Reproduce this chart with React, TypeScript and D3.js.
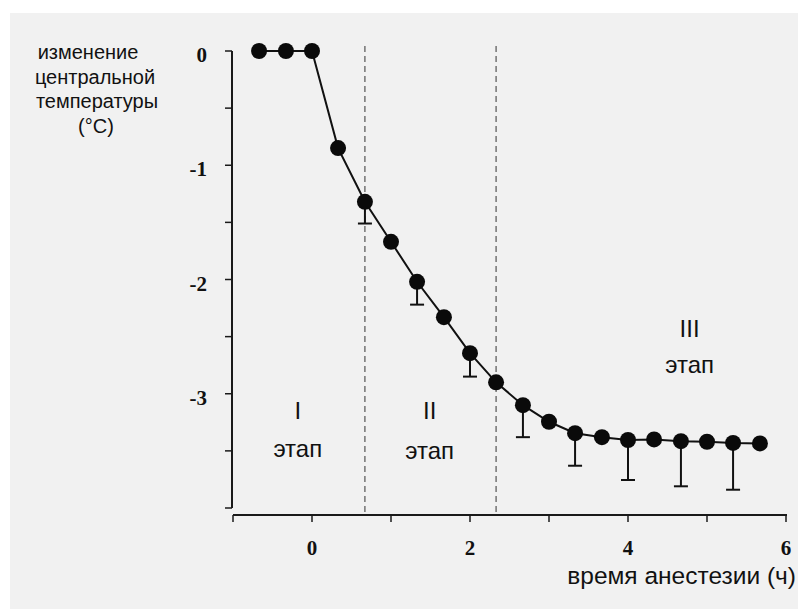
import React from "react";
import * as d3 from "d3";

// time since induction (h), mean core temperature change (°C), lower end of SD bar
const hours = [-0.67, -0.33, 0, 0.33, 0.67, 1, 1.33, 1.67, 2, 2.33, 2.67, 3, 3.33, 3.67, 4, 4.33, 4.67, 5, 5.33, 5.67];
const tempChange = [0, 0, 0, -0.85, -1.32, -1.67, -2.02, -2.33, -2.645, -2.9, -3.1, -3.245, -3.345, -3.38, -3.405, -3.4, -3.415, -3.42, -3.43, -3.435];
const errLow = [null, null, null, null, -1.51, null, -2.22, null, -2.85, null, -3.38, null, -3.63, null, -3.755, null, -3.81, null, -3.84, null];

const phaseBounds = [0.67, 2.33];
const phaseNames = ["I", "II", "III"];
const yTicks = [0, -1, -2, -3];
const xTicks = [0, 2, 4, 6];
const yTitle = ["изменение", "центральной", "температуры", "(°C)"];
const xTitle = "время анестезии (ч)";

const W = 798;
const H = 609;

export default function App() {
  const x = d3.scaleLinear().domain([-1, 6]).range([233, 786]);
  const y = d3.scaleLinear().domain([0, -4]).range([51, 508]);

  const pts = hours.map((h, i) => ({ h, v: tempChange[i], lo: errLow[i] }));
  const path = d3
    .line<{ h: number; v: number }>()
    .x((d) => x(d.h))
    .y((d) => y(d.v))(pts);

  const halfTicks = d3.range(0, -4.01, -0.5);
  const intTicks = d3.range(-1, 6.01, 1);
  const axisColor = "#1a1a1a";
  const sans = "'Liberation Sans', Arial, sans-serif";
  const serif = "'Liberation Serif', 'Times New Roman', serif";

  // label anchors for the phases, in data units
  const phasePos = [
    { h: -0.18, v: -3.22, v2: -3.55 },
    { h: 1.49, v: -3.22, v2: -3.57 },
    { h: 4.78, v: -2.5, v2: -2.82 },
  ];

  return (
    <svg
      width={W}
      height={H}
      style={{ position: "absolute", left: 0, top: 0, background: "#fff" }}
    >
      <rect x={10} y={13} width={W - 10} height={H - 13} fill="#f1f1f1" />

      {/* y axis */}
      <line x1={232} x2={232} y1={y(0)} y2={y(-4)} stroke={axisColor} strokeWidth={2} />
      {halfTicks.map((t) => (
        <line key={t} x1={225} x2={232} y1={y(t)} y2={y(t)} stroke={axisColor} strokeWidth={1.5} />
      ))}
      {yTicks.map((t) => (
        <text
          key={t}
          x={207}
          y={y(t) + 11}
          textAnchor="end"
          fontFamily={serif}
          fontWeight="bold"
          fontSize={21}
          fill="#111"
        >
          {t === 0 ? "0" : "-" + Math.abs(t)}
        </text>
      ))}

      {/* x axis */}
      <line x1={x(-1)} x2={x(6) + 1} y1={515} y2={515} stroke={axisColor} strokeWidth={2} />
      {intTicks.map((t) => (
        <line key={t} x1={x(t)} x2={x(t)} y1={515} y2={522} stroke={axisColor} strokeWidth={1.5} />
      ))}
      {xTicks.map((t) => (
        <text
          key={t}
          x={x(t)}
          y={555}
          textAnchor="middle"
          fontFamily={serif}
          fontWeight="bold"
          fontSize={21}
          fill="#111"
        >
          {t}
        </text>
      ))}

      {/* phase boundaries */}
      {phaseBounds.map((b) => (
        <line
          key={b}
          x1={x(b)}
          x2={x(b)}
          y1={46}
          y2={515}
          stroke="#333"
          strokeWidth={1}
          strokeDasharray="6,4"
        />
      ))}

      {/* SD bars */}
      {pts
        .filter((d) => d.lo !== null)
        .map((d) => (
          <g key={d.h} stroke="#111" strokeWidth={2}>
            <line x1={x(d.h)} x2={x(d.h)} y1={y(d.v)} y2={y(d.lo as number)} />
            <line x1={x(d.h) - 7} x2={x(d.h) + 7} y1={y(d.lo as number)} y2={y(d.lo as number)} />
          </g>
        ))}

      <path d={path ?? ""} fill="none" stroke="#111" strokeWidth={2} />
      {pts.map((d) => (
        <circle key={d.h} cx={x(d.h)} cy={y(d.v)} r={8} fill="#0a0a0a" />
      ))}

      {/* phase labels */}
      {phaseNames.map((n, i) => (
        <g key={n} fontFamily={sans} fontSize={24} fill="#111" textAnchor="middle">
          <text x={x(phasePos[i].h)} y={y(phasePos[i].v)}>{n}</text>
          <text x={x(phasePos[i].h)} y={y(phasePos[i].v2)}>этап</text>
        </g>
      ))}

      {/* axis titles */}
      {yTitle.map((s, i) => (
        <text
          key={s}
          x={[88, 95, 97, 96][i]}
          y={59 + i * 24.5}
          textAnchor="middle"
          fontFamily={sans}
          fontSize={20}
          fill="#111"
        >
          {s}
        </text>
      ))}
      <text x={796} y={584} textAnchor="end" fontFamily={sans} fontSize={24.5} fill="#111">
        {xTitle}
      </text>
    </svg>
  );
}
